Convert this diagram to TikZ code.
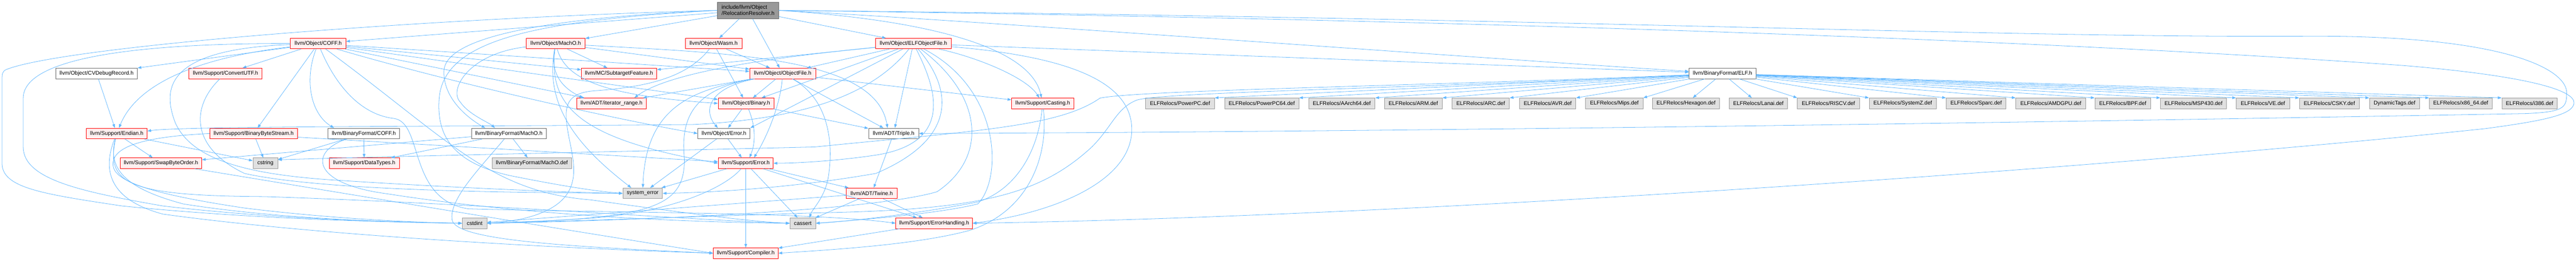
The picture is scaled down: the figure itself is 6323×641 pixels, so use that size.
\documentclass[tikz,border=0pt]{standalone}
\usepackage{xcolor}
\usepackage{tikz}
\usepackage{fontspec}
\setmainfont{Liberation Sans}
\usetikzlibrary{positioning,calc,arrows.meta}
\definecolor{depEdge}{RGB}{99,184,255}
\definecolor{depRed}{RGB}{255,0,0}
\definecolor{depPink}{RGB}{255,240,240}
\definecolor{depGrey}{RGB}{153,153,153}
\definecolor{depLight}{RGB}{224,224,224}
\definecolor{depDark}{RGB}{102,102,102}

\begin{document}
\begin{tikzpicture}[x=0.75pt, y=0.75pt,
    hdr/.style={draw, line width=0.8pt, minimum height=19.5pt, inner sep=0pt,
      font=\fontsize{10}{11.5}\selectfont},
    wd/.style={minimum width=#1*0.75pt},
    hdrRed/.style={hdr, draw=depRed, fill=depPink},
    hdrPlain/.style={hdr, draw=depDark, fill=white},
    hdrSys/.style={hdr, draw=depGrey, fill=depLight},
    hdrRoot/.style={hdr, draw=depDark, fill=depGrey, align=left, minimum height=30.75pt},
    incl/.style={draw=depEdge, line width=0.75pt, -{Triangle[length=7pt,width=5pt]}}]
        \useasboundingbox (0,0) rectangle (6323,641);
        % Root header
        \node[hdrRoot, wd=150] (root) at (1836,615.5) {include/llvm/Object\\/RelocationResolver.h};
        % Object headers
        \node[hdrRed, wd=136] (coff) at (781,534) {llvm/Object/COFF.h};
        \node[hdrRed, wd=144] (macho) at (1364,534) {llvm/Object/MachO.h};
        \node[hdrRed, wd=139] (wasm) at (1751.5,534) {llvm/Object/Wasm.h};
        \node[hdrRed, wd=186] (elfobj) at (2242,534) {llvm/Object/ELFObjectFile.h};
        \node[hdrPlain, wd=200] (cvdebug) at (237,460.5) {llvm/Object/CVDebugRecord.h};
        \node[hdrRed, wd=179] (convutf) at (553.5,460.5) {llvm/Support/ConvertUTF.h};
        \node[hdrRed, wd=185] (subtarget) at (1519.5,460.5) {llvm/MC/SubtargetFeature.h};
        \node[hdrRed, wd=162] (objfile) at (1921,460.5) {llvm/Object/ObjectFile.h};
        \node[hdrPlain, wd=164] (elfbf) at (4228,460.5) {llvm/BinaryFormat/ELF.h};
        \node[hdrRed, wd=170] (itrange) at (1501,387) {llvm/ADT/iterator\_range.h};
        \node[hdrRed, wd=137] (binary) at (1831.5,387) {llvm/Object/Binary.h};
        \node[hdrRed, wd=153] (casting) at (2559.5,387) {llvm/Support/Casting.h};
        \node[hdrRed, wd=149] (endian) at (286.5,313) {llvm/Support/Endian.h};
        \node[hdrRed, wd=215] (bbs) at (622.5,313) {llvm/Support/BinaryByteStream.h};
        \node[hdrPlain, wd=176] (coffbf) at (893,313) {llvm/BinaryFormat/COFF.h};
        \node[hdrPlain, wd=184] (machobf) at (1249,313) {llvm/BinaryFormat/MachO.h};
        \node[hdrPlain, wd=128] (objerr) at (1777,313) {llvm/Object/Error.h};
        \node[hdrPlain, wd=123] (triple) at (2193.5,313) {llvm/ADT/Triple.h};
        \node[hdrRed, wd=200] (swap) at (395,240) {llvm/Support/SwapByteOrder.h};
        \node[hdrSys, wd=61] (cstring) at (651.5,240) {cstring};
        \node[hdrRed, wd=172] (datatypes) at (894,240) {llvm/Support/DataTypes.h};
        \node[hdrSys, wd=195] (machodef) at (1305.5,240) {llvm/BinaryFormat/MachO.def};
        \node[hdrRed, wd=135] (supperr) at (1830.5,240) {llvm/Support/Error.h};
        \node[hdrSys, wd=97] (syserr) at (1577.5,166) {system\_error};
        \node[hdrRed, wd=125] (twine) at (2139.5,166) {llvm/ADT/Twine.h};
        \node[hdrSys, wd=60] (cstdint) at (1165,92.5) {cstdint};
        \node[hdrSys, wd=63] (cassert) at (1970.5,92.5) {cassert};
        \node[hdrRed, wd=188] (errhand) at (2293,92.5) {llvm/Support/ErrorHandling.h};
        \node[hdrRed, wd=159] (compiler) at (1830.5,19) {llvm/Support/Compiler.h};
        % ELF relocation tables
        \node[hdrSys, wd=169] (dPPC) at (2896.5,387) {ELFRelocs/PowerPC.def};
        \node[hdrSys, wd=182] (dPPC64) at (3097,387) {ELFRelocs/PowerPC64.def};
        \node[hdrSys, wd=163] (dAArch64) at (3293.5,387) {ELFRelocs/AArch64.def};
        \node[hdrSys, wd=142] (dARM) at (3469,387) {ELFRelocs/ARM.def};
        \node[hdrSys, wd=141] (dARC) at (3634.5,387) {ELFRelocs/ARC.def};
        \node[hdrSys, wd=138] (dAVR) at (3799,387) {ELFRelocs/AVR.def};
        \node[hdrSys, wd=141] (dMips) at (3962.5,387) {ELFRelocs/Mips.def};
        \node[hdrSys, wd=165] (dHexagon) at (4138.5,387) {ELFRelocs/Hexagon.def};
        \node[hdrSys, wd=144] (dLanai) at (4316,387) {ELFRelocs/Lanai.def};
        \node[hdrSys, wd=152] (dRISCV) at (4488,387) {ELFRelocs/RISCV.def};
        \node[hdrSys, wd=165] (dSystemZ) at (4670.5,387) {ELFRelocs/SystemZ.def};
        \node[hdrSys, wd=147] (dSparc) at (4850.5,387) {ELFRelocs/Sparc.def};
        \node[hdrSys, wd=172] (dAMDGPU) at (5034,387) {ELFRelocs/AMDGPU.def};
        \node[hdrSys, wd=137] (dBPF) at (5210.5,387) {ELFRelocs/BPF.def};
        \node[hdrSys, wd=162] (dMSP430) at (5384,387) {ELFRelocs/MSP430.def};
        \node[hdrSys, wd=131] (dVE) at (5554.5,387) {ELFRelocs/VE.def};
        \node[hdrSys, wd=147] (dCSKY) at (5717.5,387) {ELFRelocs/CSKY.def};
        \node[hdrSys, wd=123] (dDyn) at (5877.5,387) {DynamicTags.def};
        \node[hdrSys, wd=154] (dX8664) at (6040,387) {ELFRelocs/x86\_64.def};
        \node[hdrSys, wd=136] (dI386) at (6209,387) {ELFRelocs/i386.def};

        % Includes of the root header
        \draw[incl] (root) -- (coff);
        \draw[incl] (root) -- (macho);
        \draw[incl] (root) -- (wasm);
        \draw[incl] (root) -- (objfile);
        \draw[incl] (root) -- (elfobj);
        \draw[incl] (root.east) .. controls (2300,590) and (2530,520) .. (casting);
        \draw[incl] (root.east) .. controls (2400,590) and (3600,500) .. (elfbf);
        \draw[incl] (root.east) .. controls (3800,598) and (4900,548) .. (5650,552) .. controls (6150,556) and (6305,470) .. (6300,410) .. controls (6300,375) and (6290,366) .. (6200,362) .. controls (5000,340) and (3500,318) .. (triple.east);
        \draw[incl] (root.east) .. controls (3500,595) and (5000,545) .. (5900,480) .. controls (6200,455) and (6320,420) .. (6318,388) .. controls (6316,360) and (6250,345) .. (6100,325) .. controls (5200,230) and (3500,110) .. (errhand.east);
        \draw[incl] (root.west) .. controls (1000,595) and (150,525) .. (15,470) .. controls (5,465) and (5,460) .. (5,440) -- (5,240) .. controls (5,180) and (100,165) .. (300,135) .. controls (600,105) and (900,96) .. (cstdint.west);
        \draw[incl] (root.west) .. controls (1400,600) and (1100,560) .. (1090,470) .. controls (1085,400) and (1150,350) .. ($(machobf.north)+(-58,0)$);
        \draw[incl] (root.west) .. controls (1300,590) and (1090,540) .. (1078,400) .. controls (1070,300) and (1120,240) .. (1250,210) .. controls (1350,190) and (1450,172) .. (syserr.west);

        % COFF.h
        \draw[incl] (coff) -- (cvdebug);
        \draw[incl] (coff) -- (convutf);
        \draw[incl] (coff) .. controls (450,495) and (330,420) .. (endian);
        \draw[incl] (coff) -- (bbs);
        \draw[incl] (coff) .. controls (745,440) and (765,360) .. ($(coffbf.north)+(-73,0)$);
        \draw[incl] (coff) -- (subtarget);
        \draw[incl] (coff) -- (itrange);
        \draw[incl] (coff) -- (binary);
        \draw[incl] (coff) .. controls (1100,440) and (1500,350) .. (objerr.west);
        \draw[incl] (coff) -- (objfile);
        \draw[incl] (coff) .. controls (820,440) and (880,360) .. (967,350) .. controls (1040,340) and (1000,150) .. (1150,128) .. controls (1500,118) and (2000,120) .. (errhand.west);
        \draw[incl] (coff) .. controls (1100,300) and (1200,170) .. (1450,150) .. controls (1700,115) and (1850,96) .. (cassert.west);
        \draw[incl] (coff.west) .. controls (400,535) and (57,510) .. (57,400) -- (57,280) .. controls (57,200) and (200,170) .. (400,135) .. controls (700,100) and (1000,95) .. (cstdint.west);
        \draw[incl] (coff) .. controls (400,520) and (400,420) .. (430,340) .. controls (470,250) and (600,215) .. (800,200) .. controls (1100,180) and (1400,168) .. (syserr.west);

        % second row
        \draw[incl] (cvdebug) -- (endian);
        \draw[incl] (convutf) .. controls (470,380) and (465,280) .. (600,215) .. controls (800,170) and (1300,168) .. (syserr.west);

        % Endian.h and the byte stream
        \draw[incl] (endian) -- (swap);
        \draw[incl] (endian) -- (cstring);
        \draw[incl] (endian) .. controls (260,190) and (310,160) .. (650,158) .. controls (1200,140) and (1700,100) .. (cassert.west);
        \draw[incl] (endian) .. controls (265,230) and (300,180) .. (450,140) .. controls (700,100) and (1000,95) .. (cstdint.west);
        \draw[incl] (endian) .. controls (250,220) and (270,150) .. (400,115) .. controls (800,60) and (1400,30) .. (compiler.west);
        \draw[incl] (swap) .. controls (700,190) and (1300,90) .. (compiler.west);
        \draw[incl] (bbs) -- (cstring);
        \draw[incl] ($(bbs.east)+(0,-9)$) -- (supperr);
        \draw[incl] (bbs.west) .. controls (350,305) and (270,280) .. (278,232) .. controls (285,190) and (400,160) .. (600,130) .. controls (800,105) and (1000,95) .. (cstdint.west);

        % BinaryFormat headers
        \draw[incl] (coffbf) -- (cstring);
        \draw[incl] (coffbf) -- (datatypes);
        \draw[incl] (coffbf) .. controls (760,270) and (760,190) .. (950,165) .. controls (1300,110) and (1700,95) .. (cassert.west);
        \draw[incl] (machobf) -- (swap);
        \draw[incl] (machobf) -- (datatypes);
        \draw[incl] (machobf) -- (machodef);
        \draw[incl] (machobf) .. controls (1180,230) and (1100,150) .. (1110,100) .. controls (1120,50) and (1400,35) .. (compiler.west);

        % Error headers
        \draw[incl] (objerr) -- (supperr);
        \draw[incl] (objerr) -- (syserr);
        \draw[incl] (supperr) -- (twine);
        \draw[incl] (supperr) -- (compiler);
        \draw[incl] (supperr) -- (errhand);
        \draw[incl] (supperr) -- (cassert);
        \draw[incl] (supperr) .. controls (1780,180) and (1650,120) .. (1450,105) .. controls (1350,98) and (1250,95) .. (cstdint.east);
        \draw[incl] (supperr) -- (syserr);
        \draw[incl] (twine) -- (errhand);
        \draw[incl] (twine) -- (cassert);
        \draw[incl] (twine) -- (cstdint);
        \draw[incl] (triple) -- (twine);
        \draw[incl] (errhand) -- (compiler);
        \draw[incl] (casting) .. controls (2545,250) and (2480,170) .. (2400,145) .. controls (2250,115) and (2080,97) .. (cassert.east);
        \draw[incl] (casting) .. controls (2575,250) and (2520,120) .. (2380,75) .. controls (2250,40) and (2050,28) .. (compiler.east);

        % ELF.h
        \foreach \d in {dPPC,dPPC64,dAArch64,dARM,dARC,dAVR,dMips}
            \draw[incl] (elfbf) -- (\d.north east);
        \draw[incl] (elfbf) -- (dHexagon);
        \draw[incl] (elfbf) -- (dLanai);
        \foreach \d in {dRISCV,dSystemZ,dSparc,dAMDGPU,dBPF,dMSP430,dVE,dCSKY,dDyn,dX8664,dI386}
            \draw[incl] (elfbf) -- (\d.north west);
        \draw[incl] (elfbf) .. controls (3500,430) and (2800,420) .. (2700,400) .. controls (2600,330) and (2400,320) .. (2000,280) .. controls (1500,268) and (1000,258) .. ($(cstring.north east)+(0,-5)$);
        \draw[incl] (elfbf) .. controls (3500,425) and (2850,415) .. (2790,395) .. controls (2740,375) and (2730,330) .. (2680,280) .. controls (2550,160) and (2400,125) .. (2000,118) .. controls (1600,105) and (1300,95) .. (cstdint.east);

        % ELFObjectFile.h
        \draw[incl] (elfobj) -- (elfbf);
        \draw[incl] (elfobj) -- (subtarget);
        \draw[incl] (elfobj) .. controls (1950,505) and (1650,470) .. ($(itrange.north)+(56,0)$);
        \draw[incl] (elfobj) -- (objfile);
        \draw[incl] (elfobj) -- (binary);
        \draw[incl] (elfobj) -- (objerr.north east);
        \draw[incl] (elfobj) .. controls (2150,420) and (2000,350) .. (1700,335) .. controls (1200,330) and (450,332) .. ($(endian.east)+(0,6)$);
        \draw[incl] (elfobj) -- (triple);
        \draw[incl] (elfobj) .. controls (2300,420) and (2340,290) .. (2150,260) .. controls (2050,245) and (1950,240) .. (supperr.east);
        \draw[incl] (elfobj) .. controls (2340,420) and (2350,300) .. (2150,215) .. controls (1950,180) and (1750,168) .. (syserr.east);
        \draw[incl] (elfobj) .. controls (2420,400) and (2420,250) .. (2300,170) .. controls (2150,125) and (1600,100) .. (cstdint.east);
        \draw[incl] (elfobj) .. controls (2460,420) and (2460,200) .. (2400,140) .. controls (2300,115) and (2100,100) .. (cassert.east);
        \draw[incl] (elfobj) .. controls (2400,500) and (2520,450) .. (casting);
        \draw[incl] (elfobj) .. controls (2650,500) and (2780,430) .. (2778,320) .. controls (2775,200) and (2600,120) .. (errhand.east);

        % MachO.h and Wasm.h
        \draw[incl] (macho) -- (subtarget);
        \draw[incl] (macho) .. controls (1352,470) and (1370,430) .. ($(itrange.north)+(-70,0)$);
        \draw[incl] (macho) .. controls (1390,440) and (1500,405) .. (binary.west);
        \draw[incl] (macho) -- (objfile);
        \draw[incl] (macho) .. controls (1150,510) and (1100,420) .. (1130,390) .. controls (1150,360) and (1200,340) .. ($(machobf.north)+(-34,0)$);
        \draw[incl] (macho) .. controls (1800,510) and (2150,500) .. ($(triple.north)+(-15,0)$);
        \draw[incl] (macho) .. controls (1345,380) and (1420,300) .. (supperr.west);
        \draw[incl] (macho) .. controls (1335,380) and (1420,280) .. ($(syserr.north)+(-28,0)$);
        \draw[incl] (wasm) -- (binary);
        \draw[incl] (wasm) -- (objfile);
        \draw[incl] (wasm) .. controls (1690,455) and (1600,428) .. (1460,418) .. controls (1390,413) and (1385,380) .. (1392,330) .. controls (1400,270) and (1430,200) .. (1380,150) .. controls (1340,110) and (1260,96) .. (cstdint.east);

        % ObjectFile.h and Binary.h
        \draw[incl] (objfile) -- (itrange);
        \draw[incl] (objfile) -- (binary);
        \draw[incl] (objfile) .. controls (1740,425) and (1725,370) .. ($(objerr.north)+(-15,0)$);
        \draw[incl] (objfile) -- (casting);
        \draw[incl] (objfile) .. controls (1915,380) and (1880,300) .. ($(supperr.north)+(20,0)$);
        \draw[incl] (objfile) .. controls (2030,400) and (2045,300) .. (2035,220) .. controls (2030,160) and (1995,130) .. ($(cassert.north)+(16,0)$);
        \draw[incl] (objfile) .. controls (1700,420) and (1670,350) .. (1680,250) .. controls (1680,130) and (1600,105) .. (cstdint.east);
        \draw[incl] (objfile) .. controls (1700,420) and (1585,380) .. (syserr);
        \draw[incl] (objfile) -- (triple);
        \draw[incl] (binary) -- (objerr);
        \draw[incl] (binary) .. controls (1855,330) and (1855,290) .. ($(supperr.north)+(9,0)$);
        \draw[incl] (binary) -- (triple);
    \end{tikzpicture}
\end{document}
